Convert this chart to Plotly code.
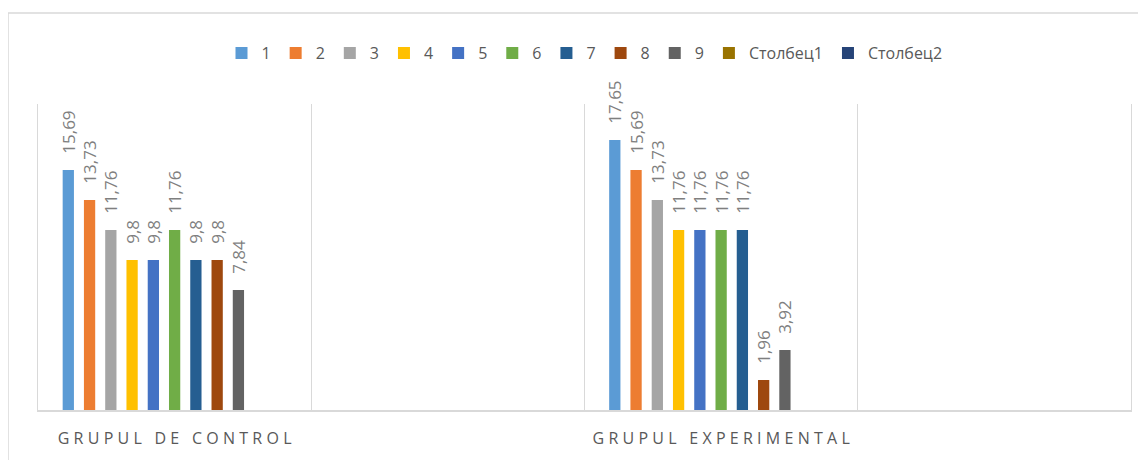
import plotly.graph_objects as go

categories = ["GRUPUL DE CONTROL", "gap1", "GRUPUL EXPERIMENTAL", "gap2"]
series_names = ["1", "2", "3", "4", "5", "6", "7", "8", "9", "Столбец1", "Столбец2"]
control_values = [15.69, 13.73, 11.76, 9.8, 9.8, 11.76, 9.8, 9.8, 7.84, None, None]
experimental_values = [17.65, 15.69, 13.73, 11.76, 11.76, 11.76, 11.76, 1.96, 3.92, None, None]
colors = ["#5B9BD5", "#ED7D31", "#A5A5A5", "#FFC000", "#4472C4", "#70AD47",
          "#255E91", "#9E480E", "#636363", "#997300", "#264478"]

FONT = "Open Sans"
NB = "\u00a0"

# page body has an 8px margin, so the figure is shifted by 8px
OFF = 8
L, R_EDGE, T, B_EDGE = 38, 1131, 104, 410
W, H = 1146, 460


def fmt(v):
    if v is None:
        return ""
    s = ("%g" % v).replace(".", ",")
    return NB * 3 + s


def spaced(label):
    if label.startswith("gap"):
        return ""
    return "\u2009\u200a".join(list(label))


fig = go.Figure()
for i, name in enumerate(series_names):
    ys = [control_values[i], None, experimental_values[i], None]
    fig.add_trace(go.Bar(
        x=categories, y=ys, name=name,
        marker=dict(color=colors[i], line=dict(width=0)),
        text=[fmt(v) for v in ys],
        textposition="outside", textangle=-90, constraintext="none",
        outsidetextfont=dict(family=FONT, size=17, color="#7F7F7F"),
        cliponaxis=False,
    ))

pw = R_EDGE - L
ph = B_EDGE - T
fig.update_layout(
    width=W, height=H,
    margin=dict(l=L - OFF, r=W - (R_EDGE - OFF), t=T - OFF, b=H - (B_EDGE - OFF)),
    paper_bgcolor="white", plot_bgcolor="white",
    barmode="group", bargap=0.144, bargroupgap=0.47,
    font=dict(family=FONT, color="#595959"),
    showlegend=True,
    legend=dict(orientation="h", x=0.5, xanchor="center", y=(B_EDGE - 53) / ph, yanchor="middle",
                font=dict(family=FONT, size=16, color="#595959"),
                itemwidth=30, traceorder="normal"),
    xaxis=dict(type="category", categoryorder="array", categoryarray=categories,
               tickvals=categories, ticktext=[spaced(c) for c in categories],
               tickson="boundaries", ticks="", showgrid=True, gridcolor="#D9D9D9", gridwidth=1,
               showline=True, linecolor="#D9D9D9", linewidth=1.5,
               tickfont=dict(family=FONT, size=16, color="#595959"), ticklabelstandoff=13),
    yaxis=dict(range=[0, 20], showticklabels=False, ticks="", showgrid=False, zeroline=False,
               showline=True, mirror=True, linecolor="#D9D9D9", linewidth=1),
    shapes=[dict(type="rect", xref="paper", yref="paper",
                 x0=(8 - L) / pw, x1=1.2,
                 y0=-0.5, y1=(B_EDGE - 13) / ph,
                 line=dict(color="#D9D9D9", width=1.5), fillcolor="rgba(0,0,0,0)", layer="below")],
)

fig.write_html("out.html")
